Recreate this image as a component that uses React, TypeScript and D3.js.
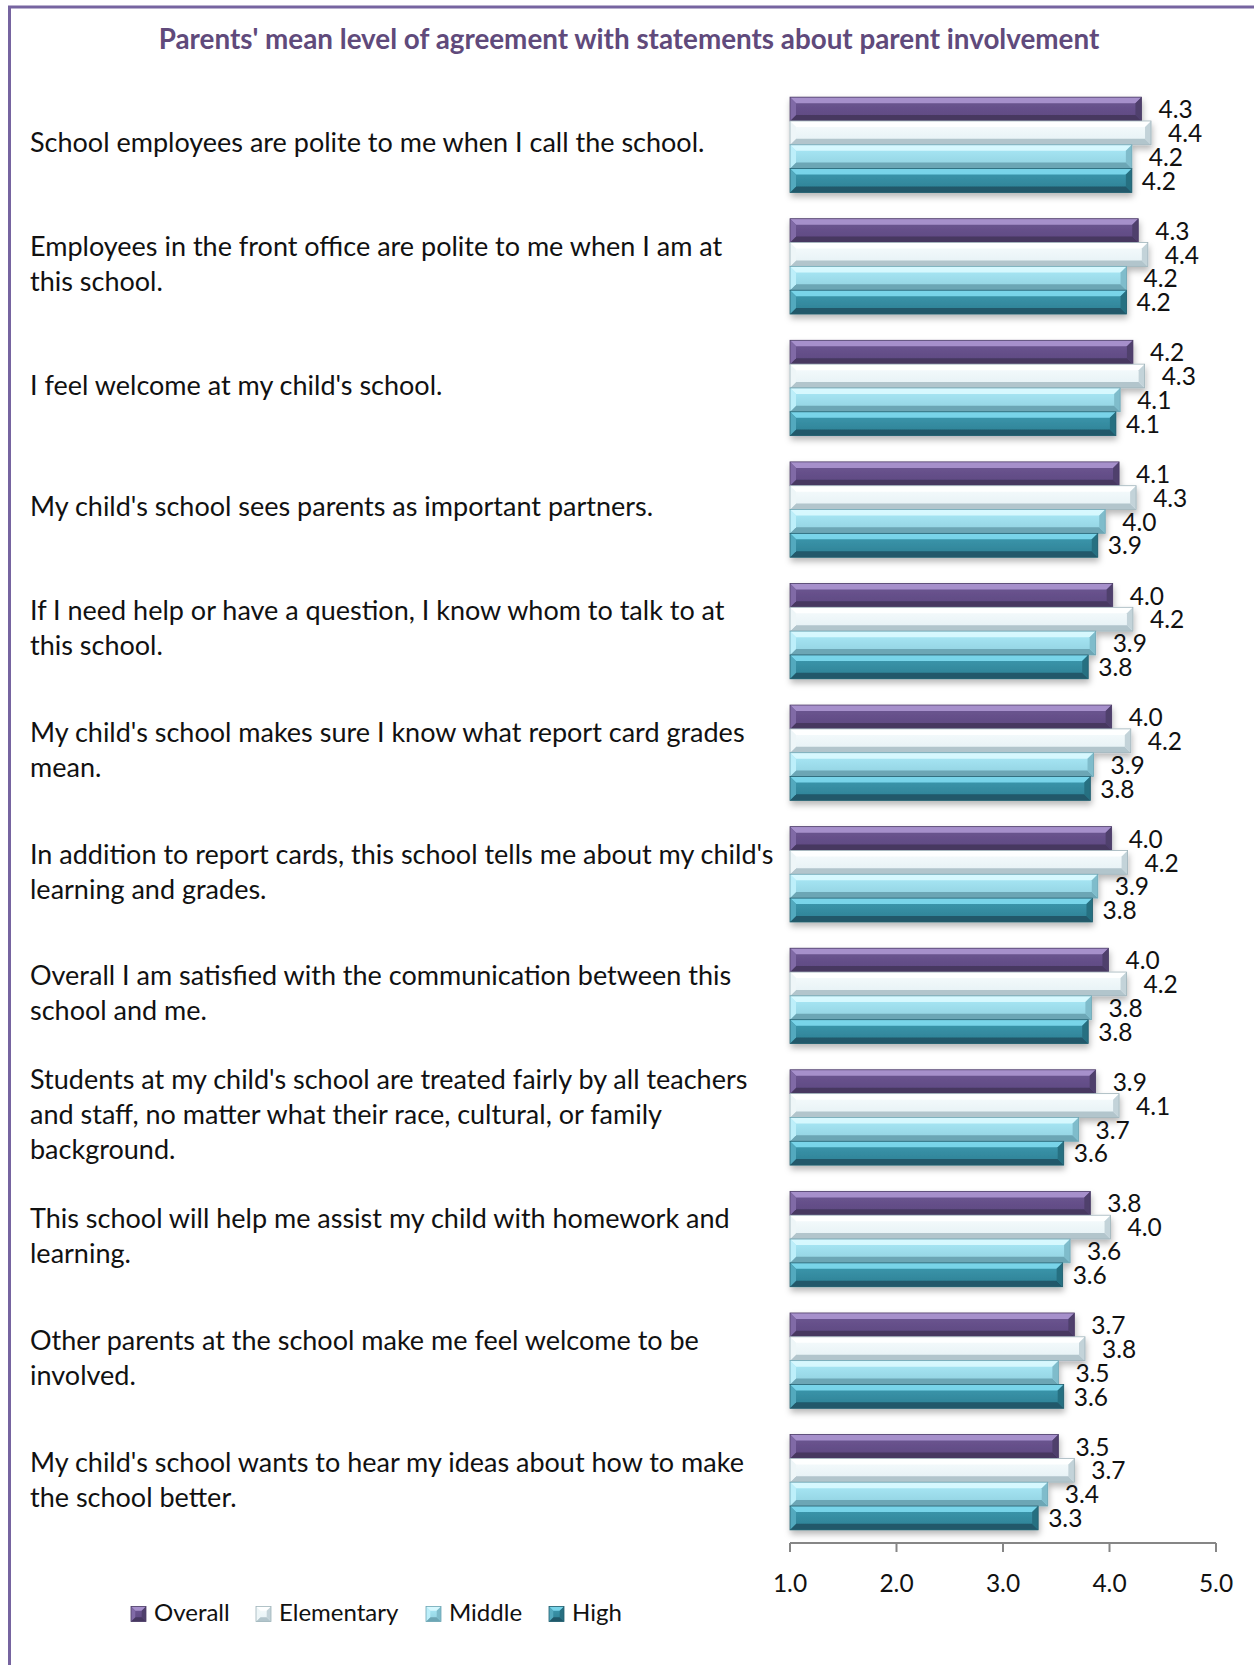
import React from "react";
import * as d3 from "d3";

const categories: string[] = [
  "School employees are polite to me when I call the school.",
  "Employees in the front office are polite to me when I am at\nthis school.",
  "I feel welcome at my child's school.",
  "My child's school sees parents as important partners.",
  "If I need help or have a question, I know whom to talk to at\nthis school.",
  "My child's school makes sure I know what report card grades\nmean.",
  "In addition to report cards, this school tells me about my child's\nlearning and grades.",
  "Overall I am satisfied with the communication between this\nschool and me.",
  "Students at my child's school are treated fairly by all teachers\nand staff, no matter what their race, cultural, or family\nbackground.",
  "This school will help me assist my child with homework and\nlearning.",
  "Other parents at the school make me feel welcome to be\ninvolved.",
  "My child's school wants to hear my ideas about how to make\nthe school better.",
];

const seriesNames: string[] = ["Overall", "Elementary", "Middle", "High"];

const overall: number[] = [4.3, 4.27, 4.22, 4.09, 4.03, 4.02, 4.02, 3.99, 3.87, 3.82, 3.67, 3.52];
const elementary: number[] = [4.39, 4.36, 4.33, 4.25, 4.22, 4.2, 4.17, 4.16, 4.09, 4.01, 3.77, 3.67];
const middle: number[] = [4.21, 4.16, 4.1, 3.96, 3.87, 3.85, 3.89, 3.83, 3.71, 3.63, 3.52, 3.42];
const high: number[] = [4.21, 4.16, 4.06, 3.89, 3.8, 3.82, 3.84, 3.8, 3.57, 3.56, 3.57, 3.33];

const xTicks: number[] = [1, 2, 3, 4, 5];

const title = "Parents' mean level of agreement with statements about parent involvement";

const W = 1254;
const H = 1665;
const FONT = "Lato, 'Open Sans', sans-serif";

const seriesValues = [overall, elementary, middle, high];

const styles = [
  { top: "#ad97d2", m1: "#6d5793", m2: "#5d4880", bottom: "#463760", left: "#806aa6", right: "#4f3f6c", stroke: "#4e3f68", dx: 17 },
  { top: "#ffffff", m1: "#f7fcfd", m2: "#e4f0f4", bottom: "#b2c5cc", left: "#eef6f8", right: "#c3d3d9", stroke: "#9fb3ba", dx: 17 },
  { top: "#dcf9ff", m1: "#abeaf8", m2: "#90d0df", bottom: "#6ca6b5", left: "#bdeffa", right: "#7fbccb", stroke: "#6fa6b4", dx: 17 },
  { top: "#80daf0", m1: "#3e9ab0", m2: "#2d7f93", bottom: "#20596a", left: "#52a9be", right: "#286f81", stroke: "#245f6f", dx: 10 },
];

const x = d3.scaleLinear().domain([1, 5]).range([790, 1216]);
const y0 = d3
  .scaleBand<string>()
  .domain(categories)
  .range([84, 1543])
  .paddingInner(0.216)
  .paddingOuter(0.108);
const y1 = d3.scaleBand<string>().domain(seriesNames).range([0, y0.bandwidth()]).padding(0);

const fmt = d3.format(".1f");

function Bar({ x0, x1, yt, h, si }: { x0: number; x1: number; yt: number; h: number; si: number }) {
  const s = styles[si];
  const b = Math.min(6, h / 3.5, (x1 - x0) / 2);
  const yb = yt + h;
  const pts = (a: number[][]) => a.map((p) => p.join(",")).join(" ");
  return (
    <g>
      <rect x={x0} y={yt} width={x1 - x0} height={h} fill={`url(#grad${si})`} />
      <polygon points={pts([[x0, yt], [x1, yt], [x1 - b, yt + b], [x0 + b, yt + b]])} fill={s.top} opacity={0.9} />
      <polygon points={pts([[x0, yb], [x1, yb], [x1 - b, yb - b], [x0 + b, yb - b]])} fill={s.bottom} />
      <polygon points={pts([[x0, yt], [x0 + b, yt + b], [x0 + b, yb - b], [x0, yb]])} fill={s.left} />
      <polygon points={pts([[x1, yt], [x1 - b, yt + b], [x1 - b, yb - b], [x1, yb]])} fill={s.right} />
      <rect x={x0} y={yt} width={x1 - x0} height={h} fill="none" stroke={s.stroke} strokeWidth={0.8} />
    </g>
  );
}

const legendX = [131, 256, 426, 549];
const legendY = 1614;

export default function App() {
  const lineH = 35;
  return (
    <svg
      width={W}
      height={H}
      viewBox={`0 0 ${W} ${H}`}
      style={{ position: "absolute", left: 0, top: 0, background: "#ffffff", display: "block" }}
      fontFamily={FONT}
    >
      <defs>
        {styles.map((s, i) => (
          <linearGradient key={i} id={`grad${i}`} x1="0" y1="0" x2="0" y2="1">
            <stop offset="0" stopColor={s.m1} />
            <stop offset="1" stopColor={s.m2} />
          </linearGradient>
        ))}
        <filter id="shadow" x="-5%" y="-20%" width="110%" height="150%">
          <feDropShadow dx="1" dy="4" stdDeviation="3" floodColor="#000" floodOpacity="0.28" />
        </filter>
      </defs>

      <rect x={0} y={0} width={W} height={H} fill="#fff" />
      <rect x={9.5} y={7} width={W + 20} height={H + 20} fill="none" stroke="#7664a0" strokeWidth={3} />

      <text x={629} y={42} textAnchor="middle" dominantBaseline="middle" fontWeight="bold" fontSize={27.8} fill="#604a7b">
        {title}
      </text>

      {categories.map((c, ci) => {
        const gy = y0(c)!;
        const lines = c.split("\n");
        const cy = gy + y0.bandwidth() / 2;
        const startY = cy - ((lines.length - 1) * lineH) / 2;
        return (
          <g key={ci}>
            <g filter="url(#shadow)">
              {seriesNames.map((sn, si) => (
                <Bar key={sn} x0={x(1)} x1={x(seriesValues[si][ci])} yt={gy + y1(sn)!} h={y1.bandwidth()} si={si} />
              ))}
            </g>
            {seriesNames.map((sn, si) => (
              <text
                key={sn}
                x={x(seriesValues[si][ci]) + styles[si].dx}
                y={gy + y1(sn)! + y1.bandwidth() / 2 + 3}
                dominantBaseline="middle"
                fontSize={24.5}
                fill="#111"
              >
                {fmt(seriesValues[si][ci])}
              </text>
            ))}
            <text x={30} fontSize={27} fill="#111">
              {lines.map((l, li) => (
                <tspan key={li} x={30} y={startY + li * lineH} dominantBaseline="middle">
                  {l}
                </tspan>
              ))}
            </text>
          </g>
        );
      })}

      <g>
        <line x1={x(1)} x2={x(5)} y1={1543} y2={1543} stroke="#868686" strokeWidth={2} />
        {xTicks.map((t) => (
          <g key={t}>
            <line x1={x(t)} x2={x(t)} y1={1543} y2={1552} stroke="#868686" strokeWidth={2} />
            <text x={x(t)} y={1586} textAnchor="middle" dominantBaseline="middle" fontSize={24.5} fill="#111">
              {fmt(t)}
            </text>
          </g>
        ))}
      </g>

      <g>
        {seriesNames.map((sn, si) => (
          <g key={sn}>
            <Bar x0={legendX[si]} x1={legendX[si] + 15} yt={legendY - 7.5} h={15} si={si} />
            <text x={legendX[si] + 23} y={legendY + 1} dominantBaseline="middle" fontSize={24} fill="#111">
              {sn}
            </text>
          </g>
        ))}
      </g>
    </svg>
  );
}
